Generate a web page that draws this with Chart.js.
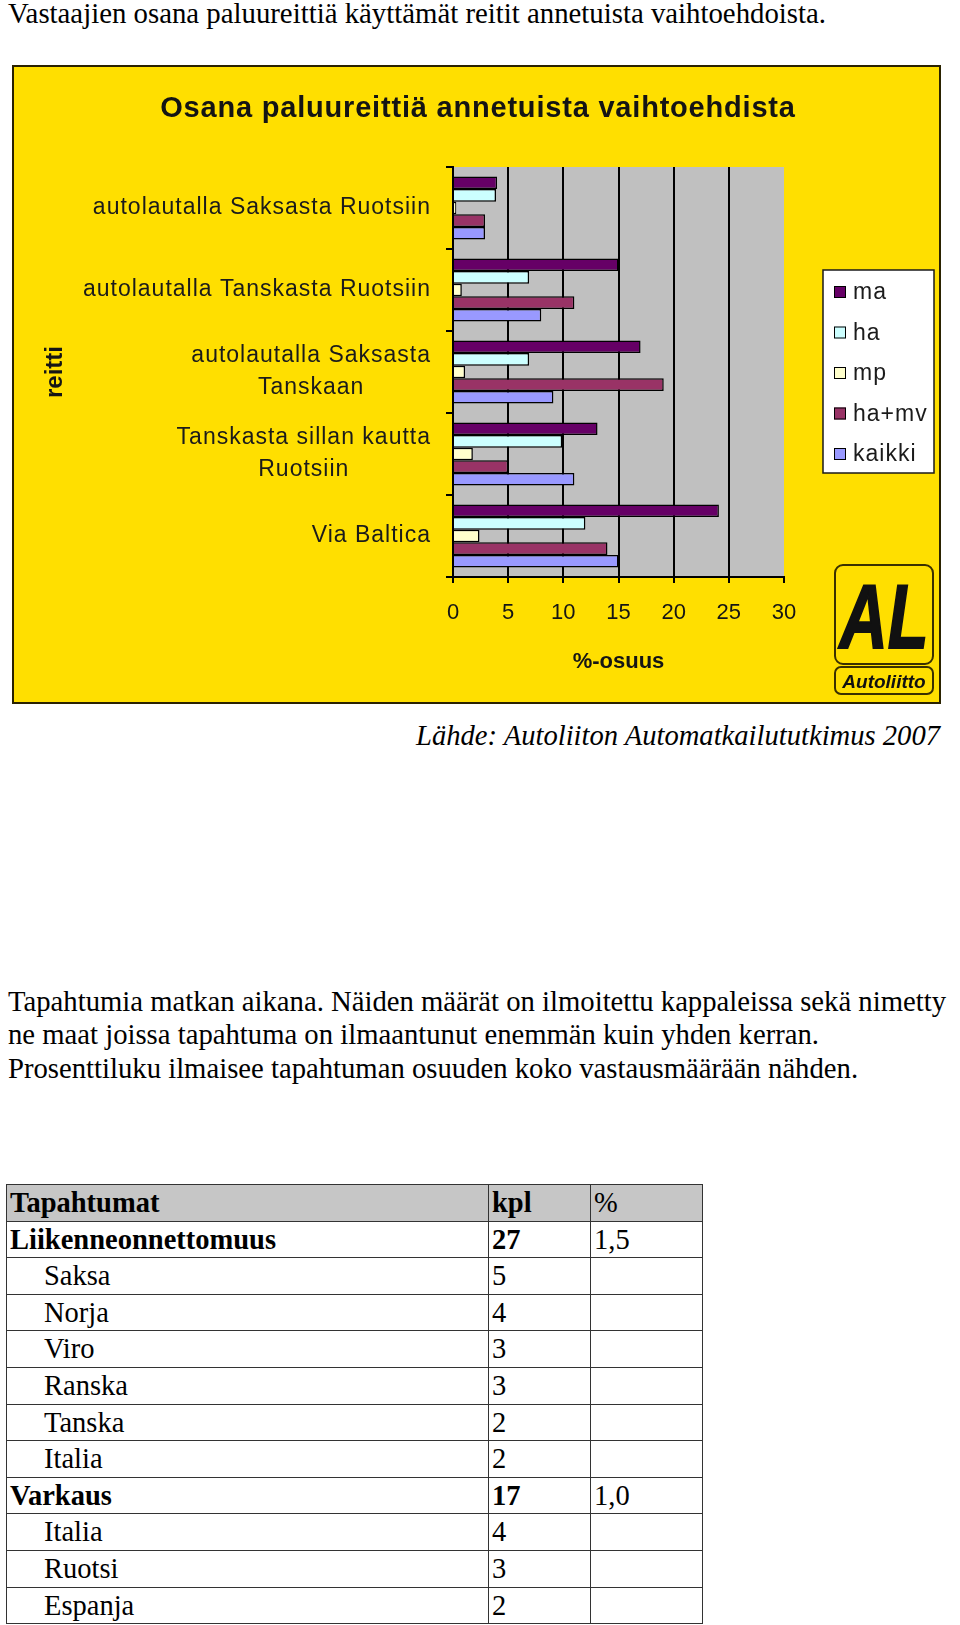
<!DOCTYPE html>
<html><head><meta charset="utf-8">
<script src="https://cdn.jsdelivr.net/npm/chart.js@4.4.1/dist/chart.umd.min.js"></script>
<style>
html,body{margin:0;padding:0;background:#fff;}
body{width:960px;height:1625px;position:relative;overflow:hidden;font-family:"Liberation Serif","Times New Roman",serif;color:#000;}
#top{position:absolute;left:8px;top:-2px;font-size:28.8px;line-height:30px;white-space:nowrap;}
#chartbox{position:absolute;left:12px;top:65px;width:929px;height:639px;}
#src{position:absolute;right:20px;top:721px;font-size:28.6px;font-style:italic;line-height:30px;white-space:nowrap;}
#para{position:absolute;left:8px;top:985px;font-size:28.7px;line-height:33.3px;white-space:nowrap;}
table{position:absolute;left:6px;top:1184px;border-collapse:collapse;table-layout:fixed;width:696px;}
td{border:1.6px solid #333;height:35.6px;padding:0 0 0 3px;line-height:35.6px;font-size:28.5px;white-space:nowrap;overflow:hidden;}
tr.head td{background:#c6c6c6;}
td.b{font-weight:bold;}
td.ind{padding-left:37px;}
</style></head>
<body>
<div id="top">Vastaajien osana paluureittiä käyttämät reitit annetuista vaihtoehdoista.</div>
<div id="chartbox"><canvas id="c" width="929" height="639" style="width:929px;height:639px"></canvas></div>
<div id="src">Lähde: Autoliiton Automatkailututkimus 2007</div>
<div id="para">Tapahtumia matkan aikana. Näiden määrät on ilmoitettu kappaleissa sekä nimetty<br>ne maat joissa tapahtuma on ilmaantunut enemmän kuin yhden kerran.<br>Prosenttiluku ilmaisee tapahtuman osuuden koko vastausmäärään nähden.</div>
<table id="tbl">
<colgroup><col style="width:482px"><col style="width:102px"><col style="width:112px"></colgroup>
<tbody id="tb"></tbody>
</table>
<script>
// ---- chart data ----
const categories = [
  ["autolautalla Saksasta Ruotsiin"],
  ["autolautalla Tanskasta Ruotsiin"],
  ["autolautalla Saksasta", "Tanskaan"],
  ["Tanskasta sillan kautta", "Ruotsiin"],
  ["Via Baltica"]
];
const seriesNames = ["ma", "ha", "mp", "ha+mv", "kaikki"];
const ma     = [4.0, 15.0, 17.0, 13.1, 24.1];
const ha     = [3.9, 6.9, 6.9, 9.9, 12.0];
const mp     = [0.3, 0.8, 1.1, 1.8, 2.4];
const haMv   = [2.9, 11.0, 19.1, 5.0, 14.0];
const kaikki = [2.9, 8.0, 9.1, 11.0, 15.0];
const xTicks = [0, 5, 10, 15, 20, 25, 30];
const chartTitle = "Osana paluureittiä annetuista vaihtoehdista";
const xTitle = "%-osuus";
const yTitle = "reitti";

// ---- table data ----
const tableHeader = ["Tapahtumat", "kpl", "%"];
const tableEvents = ["Liikenneonnettomuus","Saksa","Norja","Viro","Ranska","Tanska","Italia","Varkaus","Italia","Ruotsi","Espanja"];
const tableKpl    = ["27","5","4","3","3","2","2","17","4","3","2"];
const tablePct    = ["1,5","","","","","","","1,0","","",""];
const tableBold   = [true,false,false,false,false,false,false,true,false,false,false];

// build table
(function(){
  const tb = document.getElementById('tb');
  let h = '<tr class="head"><td class="b">'+tableHeader[0]+'</td><td class="b">'+tableHeader[1]+'</td><td>'+tableHeader[2]+'</td></tr>';
  tableEvents.forEach((e,i)=>{
    const b = tableBold[i];
    h += '<tr><td class="'+(b?'b':'ind')+'">'+e+'</td><td class="'+(b?'b':'')+'">'+tableKpl[i]+'</td><td>'+tablePct[i]+'</td></tr>';
  });
  tb.innerHTML = h;
})();

const YELLOW = '#ffdf00';
const COLORS = ['#660066', '#ccffff', '#ffffcc', '#993366', '#9999ff'];
const SANS = '"Liberation Sans", Arial, sans-serif';
const series = [ma, ha, mp, haMv, kaikki];

const deco = {
  id: 'deco',
  beforeDraw(chart) {
    const {ctx, width, height, chartArea: a} = chart;
    ctx.save();
    ctx.fillStyle = YELLOW;
    ctx.fillRect(0, 0, width, height);
    ctx.fillStyle = '#c0c0c0';
    ctx.fillRect(a.left, a.top, a.right - a.left, a.bottom - a.top);
    ctx.restore();
  },
  afterDraw(chart) {
    const {ctx, width, height} = chart;
    ctx.save();
    // outer border
    ctx.strokeStyle = '#2a2200';
    ctx.lineWidth = 2;
    ctx.strokeRect(1, 1, width - 2, height - 2);

    // title
    ctx.font = 'bold 29px ' + SANS;
    ctx.letterSpacing = '0.8px';
    ctx.fillStyle = '#141414';
    ctx.textAlign = 'center';
    ctx.textBaseline = 'alphabetic';
    ctx.fillText(chartTitle, 466, 52);

    // category labels
    const ys = chart.scales.y;
    ctx.font = '23px ' + SANS;
    ctx.letterSpacing = '1px';
    ctx.fillStyle = '#1b1b1b';
    ctx.textBaseline = 'middle';
    ctx.textAlign = 'center';
    chart.data.labels.forEach((lines, i) => {
      const cy = ys.getPixelForTick(i);
      const w = Math.max(...lines.map(l => ctx.measureText(l).width));
      const cx = 419 - w / 2;
      lines.forEach((l, j) => ctx.fillText(l, cx, cy + (j - (lines.length - 1) / 2) * 32));
    });

    // legend
    ctx.fillStyle = '#ffffff';
    ctx.fillRect(811, 205, 111, 203);
    ctx.strokeStyle = '#1a1a1a';
    ctx.lineWidth = 1.5;
    ctx.strokeRect(811, 205, 111, 203);
    ctx.textAlign = 'left';
    chart.data.datasets.forEach((ds, i) => {
      const cy = 227 + i * 40.5;
      ctx.fillStyle = ds.backgroundColor;
      ctx.fillRect(822, cy - 6, 12, 12);
      ctx.strokeStyle = '#000';
      ctx.lineWidth = 1;
      ctx.strokeRect(822.5, cy - 5.5, 11, 11);
      ctx.fillStyle = '#1b1b1b';
      ctx.fillText(ds.label, 841, cy + 1);
    });

    // logo
    ctx.letterSpacing = '0px';
    ctx.fillStyle = YELLOW;
    ctx.strokeStyle = '#3a3000';
    ctx.lineWidth = 2;
    ctx.beginPath(); ctx.roundRect(823, 500, 98, 99, 8); ctx.fill(); ctx.stroke();
    ctx.beginPath(); ctx.roundRect(823, 602, 98, 27, 6); ctx.fill(); ctx.stroke();
    ctx.save();
    ctx.translate(872, 583);
    ctx.scale(0.74, 1);
    ctx.font = 'italic 900 90px ' + SANS;
    ctx.textAlign = 'center';
    ctx.textBaseline = 'alphabetic';
    ctx.fillStyle = '#111';
    ctx.strokeStyle = '#111';
    ctx.lineWidth = 2;
    ctx.fillText('AL', 0, 0);
    ctx.strokeText('AL', 0, 0);
    ctx.restore();
    ctx.font = 'italic bold 19px ' + SANS;
    ctx.textAlign = 'center';
    ctx.textBaseline = 'alphabetic';
    ctx.fillStyle = '#111';
    ctx.fillText('Autoliitto', 872, 623);
    ctx.restore();
  }
};

new Chart(document.getElementById('c'), {
  type: 'bar',
  data: {
    labels: categories,
    datasets: seriesNames.map((n, i) => ({
      label: n,
      data: series[i],
      backgroundColor: COLORS[i],
      borderColor: '#000',
      borderWidth: 1.5,
      borderSkipped: 'start',
      categoryPercentage: 0.77,
      barPercentage: 1.0
    }))
  },
  options: {
    indexAxis: 'y',
    responsive: false,
    animation: false,
    devicePixelRatio: 1,
    layout: {padding: {top: 102, right: 157, left: 0, bottom: 0}},
    plugins: {legend: {display: false}, tooltip: {enabled: false}, title: {display: false}},
    scales: {
      x: {
        type: 'linear', min: 0, max: 30,
        afterBuildTicks(s) { s.ticks = xTicks.map(v => ({value: v})); },
        afterFit(s) { s.height = 127; },
        ticks: {font: {family: SANS, size: 22}, color: '#151515', padding: 16.8},
        grid: {
          color: c => (c.tick && c.tick.value === 30) ? 'rgba(0,0,0,0)' : '#000',
          lineWidth: 2, tickColor: '#000', tickLength: 6, drawTicks: true
        },
        border: {display: true, color: '#000', width: 2},
        title: {display: true, text: xTitle, font: {family: SANS, size: 22, weight: 'bold'}, color: '#151515', padding: {top: 0, bottom: 28.8}}
      },
      y: {
        type: 'category',
        afterFit(s) { s.width = 441; },
        ticks: {display: false},
        grid: {drawOnChartArea: false, drawTicks: true, tickLength: 7, color: '#000', lineWidth: 2, offset: true},
        border: {display: true, color: '#000', width: 2},
        title: {display: true, text: yTitle, font: {family: SANS, size: 24, weight: 'bold'}, color: '#151515', padding: {top: 28.6, bottom: 0}}
      }
    }
  },
  plugins: [deco]
});
</script>
</body></html>
